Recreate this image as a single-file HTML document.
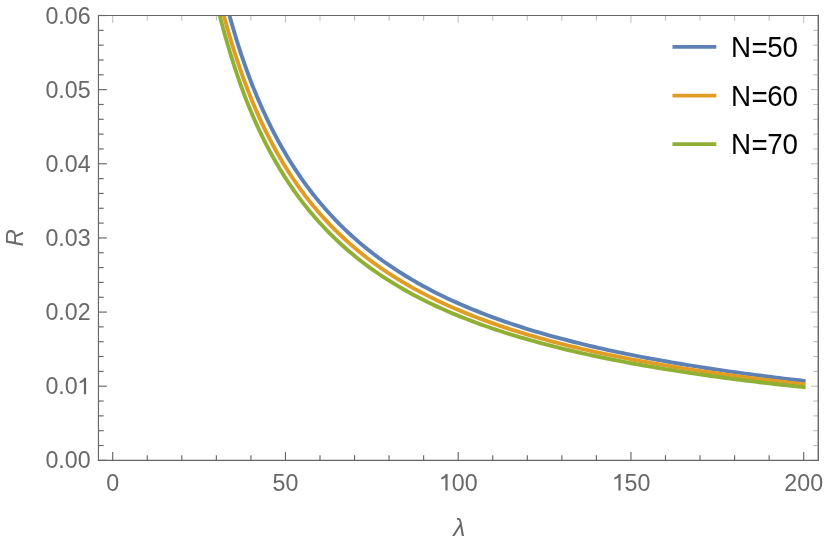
<!DOCTYPE html>
<html><head><meta charset="utf-8"><title>plot</title>
<style>
html,body{margin:0;padding:0;background:#fff;}
body{width:830px;height:546px;overflow:hidden;}
svg{display:block;will-change:transform;font-family:"Liberation Sans",sans-serif;}
</style></head><body>
<svg width="830" height="546" viewBox="0 0 830 546">
<rect x="0" y="0" width="830" height="546" fill="#ffffff"/>
<defs><clipPath id="pc"><rect x="98.45" y="15.50" width="719.90" height="444.85"/></clipPath></defs>
<g clip-path="url(#pc)">
<polyline points="216.26,-37.10 217.42,-32.07 218.59,-27.11 219.75,-22.22 220.92,-17.42 222.08,-12.70 223.25,-8.05 224.41,-3.48 225.58,1.01 226.74,5.42 227.90,9.77 229.07,14.03 230.23,18.22 231.40,22.34 232.56,26.39 233.73,30.36 234.89,34.27 236.06,38.10 237.22,41.87 238.39,45.57 239.55,49.21 240.72,52.78 241.88,56.28 243.05,59.72 244.21,63.11 245.37,66.43 246.54,69.69 247.70,72.90 248.87,76.05 250.03,79.15 251.20,82.19 252.36,85.18 253.53,88.11 254.69,91.00 255.86,93.84 257.02,96.64 258.19,99.38 259.35,102.09 260.52,104.76 261.68,107.38 262.85,109.96 264.01,112.51 265.17,115.02 266.34,117.50 267.50,119.94 268.67,122.34 269.83,124.72 271.00,127.06 272.16,129.37 273.33,131.64 274.49,133.89 275.66,136.11 276.82,138.30 277.99,140.45 279.15,142.59 280.32,144.69 281.48,146.76 282.64,148.81 283.81,150.83 284.97,152.83 286.14,154.80 287.30,156.74 288.47,158.66 289.63,160.55 290.80,162.43 291.96,164.27 293.13,166.10 294.29,167.90 295.46,169.68 296.62,171.44 297.79,173.18 298.95,174.90 300.12,176.59 301.28,178.27 302.44,179.93 303.61,181.57 304.77,183.18 305.94,184.78 307.10,186.36 308.27,187.93 309.43,189.47 310.60,191.00 311.76,192.51 312.93,194.01 314.09,195.48 315.26,196.94 316.42,198.39 317.59,199.82 318.75,201.23 319.91,202.63 324.80,208.34 329.69,213.80 334.57,219.03 339.46,224.04 344.35,228.85 349.23,233.46 354.12,237.90 359.00,242.16 363.89,246.27 368.78,250.22 373.66,254.03 378.55,257.71 383.44,261.25 388.32,264.68 393.21,267.98 398.09,271.18 402.98,274.27 407.87,277.27 412.75,280.17 417.64,282.98 422.53,285.70 427.41,288.34 432.30,290.90 437.18,293.39 442.07,295.80 446.96,298.15 451.84,300.43 456.73,302.64 461.62,304.80 466.50,306.90 471.39,308.94 476.27,310.93 481.16,312.86 486.05,314.75 490.93,316.59 495.82,318.38 500.70,320.13 505.59,321.84 510.48,323.50 515.36,325.13 520.25,326.72 525.14,328.27 530.02,329.78 534.91,331.27 539.79,332.71 544.68,334.13 549.57,335.51 554.45,336.87 559.34,338.19 564.23,339.49 569.11,340.76 574.00,342.01 578.88,343.22 583.77,344.42 588.66,345.59 593.54,346.73 598.43,347.86 603.32,348.96 608.20,350.04 613.09,351.10 617.97,352.13 622.86,353.15 627.75,354.15 632.63,355.14 637.52,356.10 642.40,357.05 647.29,357.98 652.18,358.89 657.06,359.79 661.95,360.67 666.84,361.53 671.72,362.38 676.61,363.22 681.49,364.04 686.38,364.85 691.27,365.64 696.15,366.43 701.04,367.19 705.93,367.95 710.81,368.70 715.70,369.43 720.58,370.15 725.47,370.86 730.36,371.56 735.24,372.24 740.13,372.92 745.02,373.59 749.90,374.24 754.79,374.89 759.67,375.53 764.56,376.16 769.45,376.77 774.33,377.38 779.22,377.98 784.11,378.58 788.99,379.16 793.88,379.73 798.76,380.30 803.65,380.86" fill="none" stroke="#5e81b5" stroke-width="3.90" stroke-linejoin="round" stroke-linecap="square"/>
<polyline points="216.26,-14.51 217.42,-9.65 218.59,-4.88 219.75,-0.20 220.92,4.38 222.08,8.88 223.25,13.30 224.41,17.64 225.58,21.89 226.74,26.07 227.90,30.17 229.07,34.19 230.23,38.14 231.40,42.03 232.56,45.84 233.73,49.58 234.89,53.26 236.06,56.88 237.22,60.43 238.39,63.92 239.55,67.35 240.72,70.72 241.88,74.03 243.05,77.29 244.21,80.49 245.37,83.64 246.54,86.73 247.70,89.77 248.87,92.76 250.03,95.71 251.20,98.60 252.36,101.44 253.53,104.24 254.69,107.00 255.86,109.71 257.02,112.38 258.19,115.00 259.35,117.59 260.52,120.14 261.68,122.64 262.85,125.12 264.01,127.55 265.17,129.95 266.34,132.32 267.50,134.65 268.67,136.95 269.83,139.22 271.00,141.46 272.16,143.67 273.33,145.84 274.49,147.99 275.66,150.11 276.82,152.20 277.99,154.26 279.15,156.29 280.32,158.30 281.48,160.28 282.64,162.24 283.81,164.17 284.97,166.08 286.14,167.96 287.30,169.81 288.47,171.65 289.63,173.46 290.80,175.25 291.96,177.01 293.13,178.76 294.29,180.48 295.46,182.18 296.62,183.86 297.79,185.52 298.95,187.17 300.12,188.79 301.28,190.39 302.44,191.97 303.61,193.54 304.77,195.08 305.94,196.61 307.10,198.13 308.27,199.62 309.43,201.10 310.60,202.56 311.76,204.00 312.93,205.43 314.09,206.84 315.26,208.24 316.42,209.62 317.59,210.99 318.75,212.34 319.91,213.68 324.80,219.13 329.69,224.35 334.57,229.35 339.46,234.14 344.35,238.74 349.23,243.15 354.12,247.40 359.00,251.48 363.89,255.40 368.78,259.18 373.66,262.83 378.55,266.34 383.44,269.73 388.32,273.01 393.21,276.17 398.09,279.23 402.98,282.19 407.87,285.05 412.75,287.83 417.64,290.51 422.53,293.12 427.41,295.64 432.30,298.09 437.18,300.47 442.07,302.78 446.96,305.03 451.84,307.21 456.73,309.33 461.62,311.39 466.50,313.40 471.39,315.35 476.27,317.26 481.16,319.11 486.05,320.92 490.93,322.68 495.82,324.39 500.70,326.07 505.59,327.70 510.48,329.29 515.36,330.85 520.25,332.37 525.14,333.85 530.02,335.30 534.91,336.72 539.79,338.11 544.68,339.46 549.57,340.79 554.45,342.09 559.34,343.35 564.23,344.60 569.11,345.81 574.00,347.00 578.88,348.17 583.77,349.31 588.66,350.43 593.54,351.53 598.43,352.60 603.32,353.66 608.20,354.69 613.09,355.70 617.97,356.70 622.86,357.67 627.75,358.63 632.63,359.57 637.52,360.50 642.40,361.40 647.29,362.29 652.18,363.17 657.06,364.02 661.95,364.87 666.84,365.70 671.72,366.51 676.61,367.31 681.49,368.10 686.38,368.87 691.27,369.63 696.15,370.38 701.04,371.12 705.93,371.84 710.81,372.55 715.70,373.26 720.58,373.95 725.47,374.62 730.36,375.29 735.24,375.95 740.13,376.60 745.02,377.24 749.90,377.87 754.79,378.49 759.67,379.10 764.56,379.70 769.45,380.29 774.33,380.87 779.22,381.45 784.11,382.01 788.99,382.57 793.88,383.12 798.76,383.67 803.65,384.20" fill="none" stroke="#e19c24" stroke-width="3.90" stroke-linejoin="round" stroke-linecap="square"/>
<polyline points="216.26,2.15 217.42,6.78 218.59,11.35 219.75,15.84 220.92,20.27 222.08,24.62 223.25,28.90 224.41,33.11 225.58,37.25 226.74,41.33 227.90,45.33 229.07,49.26 230.23,53.13 231.40,56.93 232.56,60.66 233.73,64.33 234.89,67.93 236.06,71.47 237.22,74.95 238.39,78.36 239.55,81.71 240.72,85.01 241.88,88.24 243.05,91.42 244.21,94.53 245.37,97.60 246.54,100.61 247.70,103.56 248.87,106.47 250.03,109.32 251.20,112.12 252.36,114.88 253.53,117.58 254.69,120.24 255.86,122.86 257.02,125.43 258.19,127.96 259.35,130.46 260.52,132.91 261.68,135.33 262.85,137.71 264.01,140.05 265.17,142.36 266.34,144.64 267.50,146.89 268.67,149.10 269.83,151.29 271.00,153.44 272.16,155.57 273.33,157.67 274.49,159.74 275.66,161.78 276.82,163.79 277.99,165.78 279.15,167.74 280.32,169.68 281.48,171.59 282.64,173.48 283.81,175.34 284.97,177.17 286.14,178.99 287.30,180.78 288.47,182.55 289.63,184.29 290.80,186.02 291.96,187.72 293.13,189.40 294.29,191.06 295.46,192.70 296.62,194.32 297.79,195.92 298.95,197.50 300.12,199.06 301.28,200.61 302.44,202.13 303.61,203.64 304.77,205.13 305.94,206.60 307.10,208.06 308.27,209.50 309.43,210.92 310.60,212.33 311.76,213.72 312.93,215.10 314.09,216.46 315.26,217.80 316.42,219.13 317.59,220.45 318.75,221.75 319.91,223.04 324.80,228.29 329.69,233.32 334.57,238.14 339.46,242.75 344.35,247.18 349.23,251.43 354.12,255.52 359.00,259.44 363.89,263.22 368.78,266.86 373.66,270.37 378.55,273.76 383.44,277.02 388.32,280.17 393.21,283.22 398.09,286.16 402.98,289.01 407.87,291.77 412.75,294.44 417.64,297.02 422.53,299.53 427.41,301.96 432.30,304.32 437.18,306.61 442.07,308.83 446.96,310.99 451.84,313.09 456.73,315.13 461.62,317.12 466.50,319.05 471.39,320.93 476.27,322.76 481.16,324.55 486.05,326.28 490.93,327.98 495.82,329.63 500.70,331.24 505.59,332.81 510.48,334.34 515.36,335.84 520.25,337.30 525.14,338.73 530.02,340.13 534.91,341.49 539.79,342.82 544.68,344.13 549.57,345.40 554.45,346.65 559.34,347.87 564.23,349.07 569.11,350.24 574.00,351.38 578.88,352.50 583.77,353.60 588.66,354.68 593.54,355.73 598.43,356.77 603.32,357.78 608.20,358.78 613.09,359.75 617.97,360.71 622.86,361.65 627.75,362.57 632.63,363.47 637.52,364.36 642.40,365.23 647.29,366.09 652.18,366.93 657.06,367.75 661.95,368.56 666.84,369.36 671.72,370.14 676.61,370.91 681.49,371.67 686.38,372.42 691.27,373.15 696.15,373.87 701.04,374.58 705.93,375.27 710.81,375.96 715.70,376.63 720.58,377.29 725.47,377.95 730.36,378.59 735.24,379.22 740.13,379.85 745.02,380.46 749.90,381.07 754.79,381.66 759.67,382.25 764.56,382.83 769.45,383.40 774.33,383.96 779.22,384.51 784.11,385.05 788.99,385.59 793.88,386.12 798.76,386.64 803.65,387.16" fill="none" stroke="#8fb032" stroke-width="3.90" stroke-linejoin="round" stroke-linecap="square"/>
</g>
<g>
<line x1="112.70" y1="460.35" x2="112.70" y2="451.95" stroke="#666666" stroke-width="1.15"/>
<line x1="112.70" y1="15.50" x2="112.70" y2="22.80" stroke="#666666" stroke-width="0.45"/>
<line x1="147.25" y1="460.35" x2="147.25" y2="455.15" stroke="#666666" stroke-width="1.15"/>
<line x1="147.25" y1="15.50" x2="147.25" y2="20.70" stroke="#666666" stroke-width="0.45"/>
<line x1="181.80" y1="460.35" x2="181.80" y2="455.15" stroke="#666666" stroke-width="1.15"/>
<line x1="181.80" y1="15.50" x2="181.80" y2="20.70" stroke="#666666" stroke-width="0.45"/>
<line x1="216.35" y1="460.35" x2="216.35" y2="455.15" stroke="#666666" stroke-width="1.15"/>
<line x1="216.35" y1="15.50" x2="216.35" y2="20.70" stroke="#666666" stroke-width="0.45"/>
<line x1="250.90" y1="460.35" x2="250.90" y2="455.15" stroke="#666666" stroke-width="1.15"/>
<line x1="250.90" y1="15.50" x2="250.90" y2="20.70" stroke="#666666" stroke-width="0.45"/>
<line x1="285.45" y1="460.35" x2="285.45" y2="451.95" stroke="#666666" stroke-width="1.15"/>
<line x1="285.45" y1="15.50" x2="285.45" y2="22.80" stroke="#666666" stroke-width="0.45"/>
<line x1="320.00" y1="460.35" x2="320.00" y2="455.15" stroke="#666666" stroke-width="1.15"/>
<line x1="320.00" y1="15.50" x2="320.00" y2="20.70" stroke="#666666" stroke-width="0.45"/>
<line x1="354.55" y1="460.35" x2="354.55" y2="455.15" stroke="#666666" stroke-width="1.15"/>
<line x1="354.55" y1="15.50" x2="354.55" y2="20.70" stroke="#666666" stroke-width="0.45"/>
<line x1="389.10" y1="460.35" x2="389.10" y2="455.15" stroke="#666666" stroke-width="1.15"/>
<line x1="389.10" y1="15.50" x2="389.10" y2="20.70" stroke="#666666" stroke-width="0.45"/>
<line x1="423.65" y1="460.35" x2="423.65" y2="455.15" stroke="#666666" stroke-width="1.15"/>
<line x1="423.65" y1="15.50" x2="423.65" y2="20.70" stroke="#666666" stroke-width="0.45"/>
<line x1="458.20" y1="460.35" x2="458.20" y2="451.95" stroke="#666666" stroke-width="1.15"/>
<line x1="458.20" y1="15.50" x2="458.20" y2="22.80" stroke="#666666" stroke-width="0.45"/>
<line x1="492.75" y1="460.35" x2="492.75" y2="455.15" stroke="#666666" stroke-width="1.15"/>
<line x1="492.75" y1="15.50" x2="492.75" y2="20.70" stroke="#666666" stroke-width="0.45"/>
<line x1="527.30" y1="460.35" x2="527.30" y2="455.15" stroke="#666666" stroke-width="1.15"/>
<line x1="527.30" y1="15.50" x2="527.30" y2="20.70" stroke="#666666" stroke-width="0.45"/>
<line x1="561.85" y1="460.35" x2="561.85" y2="455.15" stroke="#666666" stroke-width="1.15"/>
<line x1="561.85" y1="15.50" x2="561.85" y2="20.70" stroke="#666666" stroke-width="0.45"/>
<line x1="596.40" y1="460.35" x2="596.40" y2="455.15" stroke="#666666" stroke-width="1.15"/>
<line x1="596.40" y1="15.50" x2="596.40" y2="20.70" stroke="#666666" stroke-width="0.45"/>
<line x1="630.95" y1="460.35" x2="630.95" y2="451.95" stroke="#666666" stroke-width="1.15"/>
<line x1="630.95" y1="15.50" x2="630.95" y2="22.80" stroke="#666666" stroke-width="0.45"/>
<line x1="665.50" y1="460.35" x2="665.50" y2="455.15" stroke="#666666" stroke-width="1.15"/>
<line x1="665.50" y1="15.50" x2="665.50" y2="20.70" stroke="#666666" stroke-width="0.45"/>
<line x1="700.05" y1="460.35" x2="700.05" y2="455.15" stroke="#666666" stroke-width="1.15"/>
<line x1="700.05" y1="15.50" x2="700.05" y2="20.70" stroke="#666666" stroke-width="0.45"/>
<line x1="734.60" y1="460.35" x2="734.60" y2="455.15" stroke="#666666" stroke-width="1.15"/>
<line x1="734.60" y1="15.50" x2="734.60" y2="20.70" stroke="#666666" stroke-width="0.45"/>
<line x1="769.15" y1="460.35" x2="769.15" y2="455.15" stroke="#666666" stroke-width="1.15"/>
<line x1="769.15" y1="15.50" x2="769.15" y2="20.70" stroke="#666666" stroke-width="0.45"/>
<line x1="803.70" y1="460.35" x2="803.70" y2="451.95" stroke="#666666" stroke-width="1.15"/>
<line x1="803.70" y1="15.50" x2="803.70" y2="22.80" stroke="#666666" stroke-width="0.45"/>
<line x1="98.45" y1="460.35" x2="106.85" y2="460.35" stroke="#666666" stroke-width="1.15"/>
<line x1="818.35" y1="460.35" x2="811.05" y2="460.35" stroke="#666666" stroke-width="0.45"/>
<line x1="98.45" y1="445.52" x2="103.65" y2="445.52" stroke="#666666" stroke-width="1.15"/>
<line x1="818.35" y1="445.52" x2="813.15" y2="445.52" stroke="#666666" stroke-width="0.45"/>
<line x1="98.45" y1="430.69" x2="103.65" y2="430.69" stroke="#666666" stroke-width="1.15"/>
<line x1="818.35" y1="430.69" x2="813.15" y2="430.69" stroke="#666666" stroke-width="0.45"/>
<line x1="98.45" y1="415.87" x2="103.65" y2="415.87" stroke="#666666" stroke-width="1.15"/>
<line x1="818.35" y1="415.87" x2="813.15" y2="415.87" stroke="#666666" stroke-width="0.45"/>
<line x1="98.45" y1="401.04" x2="103.65" y2="401.04" stroke="#666666" stroke-width="1.15"/>
<line x1="818.35" y1="401.04" x2="813.15" y2="401.04" stroke="#666666" stroke-width="0.45"/>
<line x1="98.45" y1="386.21" x2="106.85" y2="386.21" stroke="#666666" stroke-width="1.15"/>
<line x1="818.35" y1="386.21" x2="811.05" y2="386.21" stroke="#666666" stroke-width="0.45"/>
<line x1="98.45" y1="371.38" x2="103.65" y2="371.38" stroke="#666666" stroke-width="1.15"/>
<line x1="818.35" y1="371.38" x2="813.15" y2="371.38" stroke="#666666" stroke-width="0.45"/>
<line x1="98.45" y1="356.55" x2="103.65" y2="356.55" stroke="#666666" stroke-width="1.15"/>
<line x1="818.35" y1="356.55" x2="813.15" y2="356.55" stroke="#666666" stroke-width="0.45"/>
<line x1="98.45" y1="341.72" x2="103.65" y2="341.72" stroke="#666666" stroke-width="1.15"/>
<line x1="818.35" y1="341.72" x2="813.15" y2="341.72" stroke="#666666" stroke-width="0.45"/>
<line x1="98.45" y1="326.89" x2="103.65" y2="326.89" stroke="#666666" stroke-width="1.15"/>
<line x1="818.35" y1="326.89" x2="813.15" y2="326.89" stroke="#666666" stroke-width="0.45"/>
<line x1="98.45" y1="312.07" x2="106.85" y2="312.07" stroke="#666666" stroke-width="1.15"/>
<line x1="818.35" y1="312.07" x2="811.05" y2="312.07" stroke="#666666" stroke-width="0.45"/>
<line x1="98.45" y1="297.24" x2="103.65" y2="297.24" stroke="#666666" stroke-width="1.15"/>
<line x1="818.35" y1="297.24" x2="813.15" y2="297.24" stroke="#666666" stroke-width="0.45"/>
<line x1="98.45" y1="282.41" x2="103.65" y2="282.41" stroke="#666666" stroke-width="1.15"/>
<line x1="818.35" y1="282.41" x2="813.15" y2="282.41" stroke="#666666" stroke-width="0.45"/>
<line x1="98.45" y1="267.58" x2="103.65" y2="267.58" stroke="#666666" stroke-width="1.15"/>
<line x1="818.35" y1="267.58" x2="813.15" y2="267.58" stroke="#666666" stroke-width="0.45"/>
<line x1="98.45" y1="252.75" x2="103.65" y2="252.75" stroke="#666666" stroke-width="1.15"/>
<line x1="818.35" y1="252.75" x2="813.15" y2="252.75" stroke="#666666" stroke-width="0.45"/>
<line x1="98.45" y1="237.93" x2="106.85" y2="237.93" stroke="#666666" stroke-width="1.15"/>
<line x1="818.35" y1="237.93" x2="811.05" y2="237.93" stroke="#666666" stroke-width="0.45"/>
<line x1="98.45" y1="223.10" x2="103.65" y2="223.10" stroke="#666666" stroke-width="1.15"/>
<line x1="818.35" y1="223.10" x2="813.15" y2="223.10" stroke="#666666" stroke-width="0.45"/>
<line x1="98.45" y1="208.27" x2="103.65" y2="208.27" stroke="#666666" stroke-width="1.15"/>
<line x1="818.35" y1="208.27" x2="813.15" y2="208.27" stroke="#666666" stroke-width="0.45"/>
<line x1="98.45" y1="193.44" x2="103.65" y2="193.44" stroke="#666666" stroke-width="1.15"/>
<line x1="818.35" y1="193.44" x2="813.15" y2="193.44" stroke="#666666" stroke-width="0.45"/>
<line x1="98.45" y1="178.61" x2="103.65" y2="178.61" stroke="#666666" stroke-width="1.15"/>
<line x1="818.35" y1="178.61" x2="813.15" y2="178.61" stroke="#666666" stroke-width="0.45"/>
<line x1="98.45" y1="163.78" x2="106.85" y2="163.78" stroke="#666666" stroke-width="1.15"/>
<line x1="818.35" y1="163.78" x2="811.05" y2="163.78" stroke="#666666" stroke-width="0.45"/>
<line x1="98.45" y1="148.95" x2="103.65" y2="148.95" stroke="#666666" stroke-width="1.15"/>
<line x1="818.35" y1="148.95" x2="813.15" y2="148.95" stroke="#666666" stroke-width="0.45"/>
<line x1="98.45" y1="134.13" x2="103.65" y2="134.13" stroke="#666666" stroke-width="1.15"/>
<line x1="818.35" y1="134.13" x2="813.15" y2="134.13" stroke="#666666" stroke-width="0.45"/>
<line x1="98.45" y1="119.30" x2="103.65" y2="119.30" stroke="#666666" stroke-width="1.15"/>
<line x1="818.35" y1="119.30" x2="813.15" y2="119.30" stroke="#666666" stroke-width="0.45"/>
<line x1="98.45" y1="104.47" x2="103.65" y2="104.47" stroke="#666666" stroke-width="1.15"/>
<line x1="818.35" y1="104.47" x2="813.15" y2="104.47" stroke="#666666" stroke-width="0.45"/>
<line x1="98.45" y1="89.64" x2="106.85" y2="89.64" stroke="#666666" stroke-width="1.15"/>
<line x1="818.35" y1="89.64" x2="811.05" y2="89.64" stroke="#666666" stroke-width="0.45"/>
<line x1="98.45" y1="74.81" x2="103.65" y2="74.81" stroke="#666666" stroke-width="1.15"/>
<line x1="818.35" y1="74.81" x2="813.15" y2="74.81" stroke="#666666" stroke-width="0.45"/>
<line x1="98.45" y1="59.99" x2="103.65" y2="59.99" stroke="#666666" stroke-width="1.15"/>
<line x1="818.35" y1="59.99" x2="813.15" y2="59.99" stroke="#666666" stroke-width="0.45"/>
<line x1="98.45" y1="45.16" x2="103.65" y2="45.16" stroke="#666666" stroke-width="1.15"/>
<line x1="818.35" y1="45.16" x2="813.15" y2="45.16" stroke="#666666" stroke-width="0.45"/>
<line x1="98.45" y1="30.33" x2="103.65" y2="30.33" stroke="#666666" stroke-width="1.15"/>
<line x1="818.35" y1="30.33" x2="813.15" y2="30.33" stroke="#666666" stroke-width="0.45"/>
<line x1="98.45" y1="15.50" x2="106.85" y2="15.50" stroke="#666666" stroke-width="1.15"/>
<line x1="818.35" y1="15.50" x2="811.05" y2="15.50" stroke="#666666" stroke-width="0.45"/>
</g>
<path d="M818.35,15.50 L98.45,15.50 L98.45,460.35 L818.35,460.35" fill="none" stroke="#666666" stroke-width="1.15" stroke-linecap="square"/><line x1="818.28" y1="15.50" x2="818.28" y2="460.35" stroke="#666666" stroke-width="1.4" stroke-linecap="square"/>
<g>
<text transform="translate(90.6,468.45) scale(0.960,1)" text-anchor="end" font-size="24.2" fill="#686868">0.00</text>
<text transform="translate(77.68,394.31) scale(0.960,1)" text-anchor="end" font-size="24.2" fill="#686868">0.0</text>
<path transform="translate(83.9,394.16)" d="M0,-16.5 L2.2,-16.5 L2.2,0 L0,0 L0,-13.0 Q-1.8,-11.7 -4.2,-10.9 L-4.2,-12.6 Q-1.2,-13.7 0.45,-16.5 Z" fill="#686868"/>
<text transform="translate(90.6,320.17) scale(0.960,1)" text-anchor="end" font-size="24.2" fill="#686868">0.02</text>
<text transform="translate(90.6,246.03) scale(0.960,1)" text-anchor="end" font-size="24.2" fill="#686868">0.03</text>
<text transform="translate(90.6,171.88) scale(0.960,1)" text-anchor="end" font-size="24.2" fill="#686868">0.04</text>
<text transform="translate(90.6,97.74) scale(0.960,1)" text-anchor="end" font-size="24.2" fill="#686868">0.05</text>
<text transform="translate(90.6,23.60) scale(0.960,1)" text-anchor="end" font-size="24.2" fill="#686868">0.06</text>
<text transform="translate(112.70,490.6) scale(0.960,1)" text-anchor="middle" font-size="24.2" fill="#686868">0</text>
<text transform="translate(285.45,490.6) scale(0.960,1)" text-anchor="middle" font-size="24.2" fill="#686868">50</text>
<path transform="translate(445.39,490.45)" d="M0,-16.5 L2.2,-16.5 L2.2,0 L0,0 L0,-13.0 Q-1.8,-11.7 -4.2,-10.9 L-4.2,-12.6 Q-1.2,-13.7 0.45,-16.5 Z" fill="#686868"/>
<text transform="translate(451.74,490.6) scale(0.960,1)" text-anchor="start" font-size="24.2" fill="#686868">00</text>
<path transform="translate(618.41,490.45)" d="M0,-16.5 L2.2,-16.5 L2.2,0 L0,0 L0,-13.0 Q-1.8,-11.7 -4.2,-10.9 L-4.2,-12.6 Q-1.2,-13.7 0.45,-16.5 Z" fill="#686868"/>
<text transform="translate(624.49,490.6) scale(0.960,1)" text-anchor="start" font-size="24.2" fill="#686868">50</text>
<text transform="translate(803.70,490.6) scale(0.960,1)" text-anchor="middle" font-size="24.2" fill="#686868">200</text>
<text transform="translate(459.25,536) scale(1.040,1)" text-anchor="middle" font-size="23.5" font-style="italic" fill="#686868">λ</text>
<text transform="translate(23.3,237.8) rotate(-90) scale(1.020,1)" text-anchor="middle" font-size="23.5" font-style="italic" fill="#686868">R</text>
</g>
<g>
<line x1="672.5" y1="46.90" x2="716.3" y2="46.90" stroke="#5e81b5" stroke-width="3.85"/>
<text transform="translate(730.9,57.00) scale(0.97,1)" font-size="28.6" fill="#000">N<tspan dx="0.7" dy="1.1">=</tspan><tspan dx="-0.7" dy="-1.1">50</tspan></text>
<line x1="672.5" y1="95.65" x2="716.3" y2="95.65" stroke="#e19c24" stroke-width="3.85"/>
<text transform="translate(730.9,105.50) scale(0.97,1)" font-size="28.6" fill="#000">N<tspan dx="0.7" dy="1.1">=</tspan><tspan dx="-0.7" dy="-1.1">60</tspan></text>
<line x1="672.5" y1="144.15" x2="716.3" y2="144.15" stroke="#8fb032" stroke-width="3.85"/>
<text transform="translate(730.9,154.10) scale(0.97,1)" font-size="28.6" fill="#000">N<tspan dx="0.7" dy="1.1">=</tspan><tspan dx="-0.7" dy="-1.1">70</tspan></text>
</g>
</svg>
</body></html>
